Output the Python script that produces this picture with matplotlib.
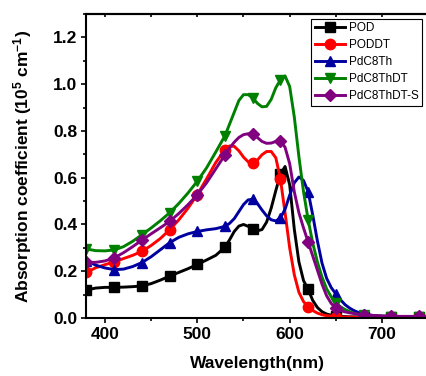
import numpy as np
import matplotlib
matplotlib.use("Agg")
import matplotlib.pyplot as plt
from matplotlib.ticker import MultipleLocator

plt.rcParams['font.family'] = ['Liberation Sans', 'DejaVu Sans']
plt.rcParams['mathtext.fontset'] = 'custom'
plt.rcParams['mathtext.bf'] = 'Liberation Sans:bold'
plt.rcParams['mathtext.rm'] = 'Liberation Sans:bold'
plt.rcParams['mathtext.default'] = 'bf'

# wavelength grid (nm)
wl = [380, 390, 400, 410, 420, 430, 440, 450, 460, 470, 480, 490, 500, 510, 520, 530,
      535, 540, 545, 550, 555, 560, 565, 570, 575, 580, 585, 590, 595, 600, 605, 610,
      615, 620, 625, 630, 635, 640, 645, 650, 655, 660, 665, 670, 675, 680,
      690, 700, 710, 720, 730, 740, 750]

# absorption coefficient (10^5 cm^-1)
pod = [0.120, 0.128, 0.131, 0.131, 0.132, 0.134, 0.137, 0.147, 0.162, 0.179, 0.195, 0.211, 0.229, 0.248, 0.268, 0.303,
       0.335, 0.370, 0.393, 0.400, 0.392, 0.381, 0.373, 0.378, 0.410, 0.470, 0.545, 0.615, 0.648, 0.570, 0.380, 0.240,
       0.160, 0.122, 0.075, 0.045, 0.027, 0.017, 0.012, 0.009, 0.007, 0.006, 0.005, 0.005, 0.004, 0.004,
       0.004, 0.003, 0.003, 0.003, 0.003, 0.003, 0.003]
poddt = [0.195, 0.215, 0.228, 0.240, 0.254, 0.268, 0.285, 0.310, 0.340, 0.377, 0.420, 0.470, 0.528, 0.595, 0.665, 0.720,
         0.736, 0.734, 0.715, 0.688, 0.668, 0.663, 0.675, 0.698, 0.712, 0.712, 0.685, 0.594, 0.450, 0.300, 0.185, 0.110,
         0.070, 0.048, 0.032, 0.021, 0.014, 0.010, 0.008, 0.006, 0.005, 0.004, 0.004, 0.003, 0.003, 0.003,
         0.003, 0.003, 0.003, 0.003, 0.003, 0.003, 0.003]
pdc8th = [0.245, 0.226, 0.214, 0.207, 0.209, 0.220, 0.237, 0.262, 0.292, 0.322, 0.345, 0.360, 0.370, 0.377, 0.382, 0.392,
          0.405, 0.425, 0.455, 0.485, 0.505, 0.508, 0.490, 0.462, 0.437, 0.420, 0.415, 0.428, 0.465, 0.525, 0.578, 0.603,
          0.588, 0.540, 0.440, 0.330, 0.235, 0.170, 0.130, 0.103, 0.078, 0.057, 0.042, 0.031, 0.023, 0.017,
          0.011, 0.008, 0.007, 0.006, 0.006, 0.006, 0.006]
pdc8thdt = [0.295, 0.288, 0.287, 0.291, 0.305, 0.328, 0.356, 0.385, 0.416, 0.450, 0.490, 0.535, 0.585, 0.642, 0.710, 0.780,
            0.830, 0.880, 0.930, 0.955, 0.955, 0.942, 0.918, 0.903, 0.905, 0.935, 0.985, 1.018, 1.035, 0.990, 0.860, 0.690,
            0.540, 0.420, 0.320, 0.240, 0.175, 0.125, 0.090, 0.065, 0.048, 0.036, 0.027, 0.020, 0.015, 0.012,
            0.009, 0.007, 0.006, 0.006, 0.006, 0.006, 0.006]
pdc8thdt_s = [0.238, 0.238, 0.244, 0.257, 0.279, 0.305, 0.333, 0.360, 0.386, 0.413, 0.447, 0.485, 0.527, 0.578, 0.638, 0.698,
              0.727, 0.752, 0.772, 0.784, 0.788, 0.786, 0.772, 0.755, 0.747, 0.748, 0.755, 0.758, 0.730, 0.660, 0.540, 0.450,
              0.385, 0.325, 0.265, 0.205, 0.145, 0.095, 0.062, 0.043, 0.032, 0.026, 0.022, 0.019, 0.016, 0.014,
              0.011, 0.009, 0.008, 0.007, 0.007, 0.007, 0.007]

series = [
    ("POD", pod, "black", "s", 6.5),
    ("PODDT", poddt, "#ff0000", "o", 7.5),
    ("PdC8Th", pdc8th, "#0000a0", "^", 7.5),
    ("PdC8ThDT", pdc8thdt, "#008000", "v", 7.5),
    ("PdC8ThDT-S", pdc8thdt_s, "#800080", "D", 6),
]

wl = np.array(wl)
# symbols sit every 30 nm
marks = list(np.where((wl - 380) % 30 == 0)[0])

fig = plt.figure(figsize=(4.27, 3.76), dpi=100)
ax = fig.add_axes([86.5/427, 58/376, (428.2-86.5)/427, 304/376])

for name, y, c, m, ms in series:
    ax.plot(wl, y, color=c, lw=2.1, marker=m, ms=ms, markevery=marks, label=name)

ax.set_xlim(380, 750)
ax.set_ylim(0, 1.3)
ax.xaxis.set_major_locator(MultipleLocator(100))
ax.xaxis.set_minor_locator(MultipleLocator(50))
ax.yaxis.set_major_locator(MultipleLocator(0.2))
ax.yaxis.set_minor_locator(MultipleLocator(0.1))
ax.yaxis.set_major_formatter(plt.FormatStrFormatter('%.1f'))

for s in ax.spines.values():
    s.set_linewidth(1.5)
ax.spines['right'].set_visible(False)

ax.tick_params(which='major', direction='out', length=3.5, width=1.2, labelsize=12.5, pad=3)
ax.tick_params(which='minor', direction='out', length=2.5, width=1.2)
for lab in ax.get_xticklabels() + ax.get_yticklabels():
    lab.set_fontweight('bold')

# inward ticks along the top edge, no labels
top = ax.secondary_xaxis('top')
top.xaxis.set_major_locator(MultipleLocator(50))
top.tick_params(direction='in', length=2.5, width=1.2, labeltop=False)
top.spines['top'].set_linewidth(1.5)

ax.set_xlabel("Wavelength(nm)", fontsize=12.5, fontweight='bold', labelpad=10)
ax.set_ylabel("Absorption coefficient (10$^5$ cm$^{-1}$)", fontsize=12.5, fontweight='bold', labelpad=14)

leg = ax.legend(loc='upper right', bbox_to_anchor=(0.982, 0.984), borderaxespad=0,
                fontsize=8.5, handlelength=2.6, handletextpad=0.3, labelspacing=0.42,
                borderpad=0.3, fancybox=False, framealpha=1, edgecolor='black')
leg.get_frame().set_linewidth(0.8)

fig.savefig("out.png", dpi=100)
